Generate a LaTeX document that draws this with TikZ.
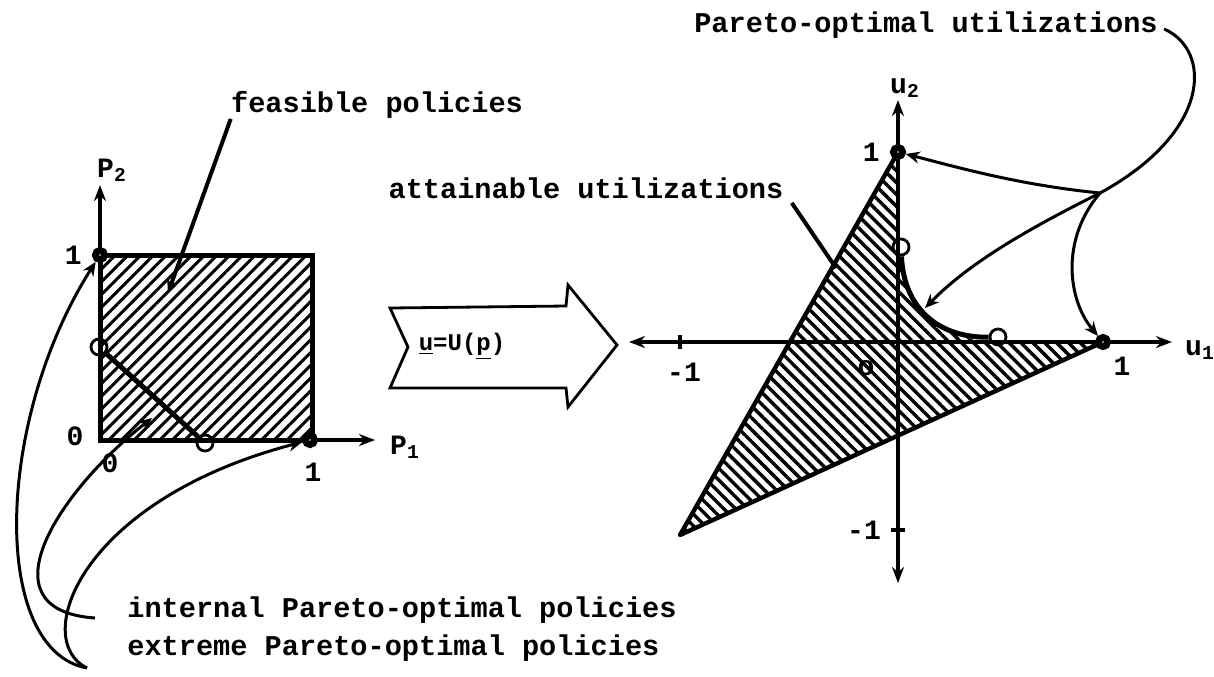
\documentclass[tikz,border=0pt]{standalone}
\usepackage{fontspec}
\setmonofont{Liberation Mono}
\usetikzlibrary{arrows.meta,patterns.meta,positioning}

\begin{document}
\begin{tikzpicture}[x=0.5pt,y=-0.5pt,
    lbl/.style={font=\ttfamily\bfseries\fontsize{14.3}{16}\selectfont,inner sep=0pt},
    num/.style={font=\ttfamily\bfseries\fontsize{14}{16}\selectfont,inner sep=1pt},
    axis/.style={line width=2pt,-{Stealth[length=8pt,width=6pt]}},
    arrow/.style={line width=1.5pt,-{Stealth[length=7pt,width=6pt]}},
    pointer/.style={line width=2pt},
    dotmark/.style={circle,draw,fill=white,line width=3.4pt,inner sep=0pt,minimum size=4.6pt},
    ringmark/.style={circle,draw,line width=1.4pt,inner sep=0pt,minimum size=8pt},
    hatchne/.style={pattern={Lines[angle=45,distance=4.5pt,line width=1.5pt]}},
    hatchnw/.style={pattern={Lines[angle=-45,distance=4.2pt,line width=1.7pt]}}
    ]
    \useasboundingbox (0,0) rectangle (1214,676);

    % policy space
    \coordinate (o1) at (100,440);
    \fill[hatchne] (100,255) rectangle (312,440);
    \draw[line width=2.5pt] (100,255) rectangle (312,440);
    \draw[axis] (o1) -- (100,185);
    \draw[axis] (o1) -- (375,440);

    \node[dotmark] (e2) at (100,255) {};
    \node[dotmark] (e1) at (310,440) {};
    \node[ringmark] (i2) at (99,347) {};
    \node[ringmark] (i1) at (205,443) {};
    \draw[line width=2.5pt] (i2) -- (i1);

    \node[num] (P2) at (112,170) {P\textsubscript{2}};
    \node[num] (P1) at (405,447) {P\textsubscript{1}};
    \node[num,left=4pt of e2] (one2) {1};
    \node[num] (zero) at (75,436) {0};
    \node[num] (zeroo) at (110,463) {0};
    \node[num] (one1) at (313,472) {1};

    % mapping
    \draw[line width=1.4pt,line join=miter] (390,308) -- (566,306) -- (568,285) -- (617,345)
      -- (568,407) -- (566,388) -- (390,388) -- (408,347) -- cycle;
    \node[font=\ttfamily\bfseries\fontsize{12}{14}\selectfont] (map) at (462,346)
      {\underline{u}=U(\underline{p})};

    % utilization space
    \coordinate (o2) at (898,342);
    \coordinate (w) at (680,535);
    \fill[hatchnw] (898,152) -- (899,252) .. controls (904,310) and (940,340) .. (998,342)
      -- (1103,342) -- (w) -- cycle;
    \draw[line width=2.2pt,line join=round] (898,152) -- (w) -- (1103,342);
    \draw[axis] (o2) -- (898,100);
    \draw[axis] (o2) -- (898,583);
    \draw[axis] (o2) -- (1172,342);
    \draw[axis] (o2) -- (629,342);
    \draw[line width=2pt] (680,335) -- (680,349);
    \draw[line width=2pt] (891,530) -- (905,530);
    \node[dotmark] (f2) at (898,152) {};
    \node[dotmark] (f1) at (1103,342) {};
    \node[ringmark] (g2) at (901,247) {};
    \node[ringmark] (g1) at (998,337) {};
    \draw[line width=2.5pt] (g2) .. controls (904,310) and (940,338) .. (g1);

    \node[num] (u2) at (905,88) {u\textsubscript{2}};
    \node[num] (u1) at (1200,350) {u\textsubscript{1}};
    \node[num,left=4pt of f2] (top1) {1};
    \node[num] (right1) at (1122,366) {1};
    \node[num] (left1) at (684,372) {-1};
    \node[num] (low1) at (864,530) {-1};
    \node[num] (orig) at (866,368) {o};

    % labels and pointers
    \node[lbl] (feas) at (377,105) {feasible policies};
    \coordinate (feasend) at (168,293);
    \draw[arrow,line width=2pt] (feas.south west) -- (feasend);

    \node[lbl] (att) at (586,188) {attainable utilizations};
    \coordinate (attend) at (836,268);
    \draw[pointer] ([xshift=4pt,yshift=-2pt]att.south east) -- (attend);

    \node[lbl] (pou) at (926,25) {Pareto-optimal utilizations};
    \coordinate (br) at (1100,193);
    \coordinate (frontpt) at (925,308);
    \draw[arrow] ([xshift=3pt,yshift=-2pt]pou.east) .. controls (1212,50) and (1212,132) .. (br)
      .. controls (1030,228) and (970,262) .. (frontpt);
    \draw[arrow] (br) .. controls (1020,185) and (960,168) .. (f2);
    \draw[arrow] (br) .. controls (1060,240) and (1068,300) .. (f1);

    \node[lbl,anchor=west] (lint) at (127,610) {internal Pareto-optimal policies};
    \node[lbl,anchor=west] (lext) at (127,648) {extreme Pareto-optimal policies};
    \coordinate (iarr) at (152,418);
    \draw[arrow] ([xshift=-16pt,yshift=-4pt]lint.west) .. controls (-20,610) and (60,490) .. (iarr);
    \draw[arrow] ([xshift=-20pt,yshift=-10pt]lext.west) .. controls (-10,650) and (-5,420) .. (e2);
    \draw[arrow] ([xshift=-20pt,yshift=-10pt]lext.west) .. controls (30,640) and (80,500) .. (e1);
\end{tikzpicture}
\end{document}
